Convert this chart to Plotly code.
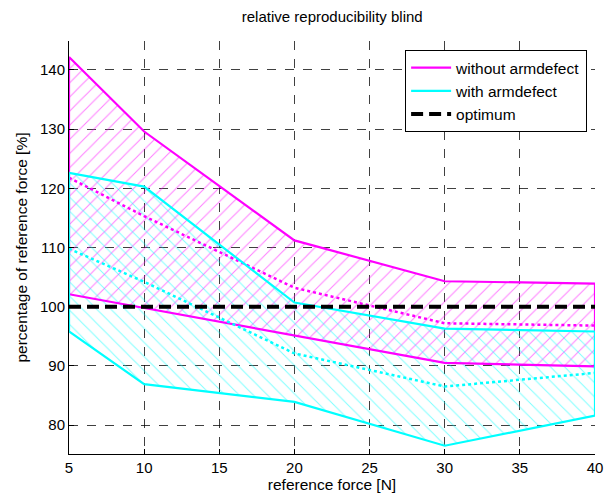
import plotly.graph_objects as go

force = [5, 10, 20, 30, 40]
wo_upper = [142.2, 129.6, 111.2, 104.3, 103.9]
wo_lower = [102.1, 99.7, 95.1, 90.5, 89.9]
wo_mean = [121.8, 115.3, 103.2, 97.2, 96.8]
w_upper = [122.6, 120.3, 100.7, 96.3, 95.8]
w_lower = [95.8, 86.9, 83.9, 76.5, 81.6]
w_mean = [109.8, 104.2, 92.1, 86.5, 88.8]
optimum = [100, 100]
opt_x = [5, 40]
x_ticks = [5, 10, 15, 20, 25, 30, 35, 40]
y_ticks = [80, 90, 100, 110, 120, 130, 140]

MAG = "#ff00ff"
CYA = "#00ffff"
FONT = "Liberation Sans, Arial"

def poly(up, lo):
    xs = force + force[::-1] + [force[0]]
    ys = up + lo[::-1] + [up[0]]
    return xs, ys

fig = go.Figure()

mx, my = poly(wo_upper, wo_lower)
cx, cy = poly(w_upper, w_lower)

fig.add_trace(go.Scatter(x=mx, y=my, mode="lines", fill="toself",
                         fillcolor="rgba(0,0,0,0)",
                         fillpattern=dict(shape="/", fgcolor=MAG, bgcolor="rgba(0,0,0,0)",
                                          size=10, solidity=0.1, fillmode="overlay"),
                         line=dict(width=0), showlegend=False, hoverinfo="skip"))
fig.add_trace(go.Scatter(x=cx, y=cy, mode="lines", fill="toself",
                         fillcolor="rgba(0,0,0,0)",
                         fillpattern=dict(shape="\\", fgcolor=CYA, bgcolor="rgba(0,0,0,0)",
                                          size=10, solidity=0.1, fillmode="overlay"),
                         line=dict(width=0), showlegend=False, hoverinfo="skip"))

fig.add_trace(go.Scatter(x=mx, y=my, mode="lines", line=dict(color=MAG, width=2.2),
                         name="without armdefect"))
fig.add_trace(go.Scatter(x=force, y=wo_mean, mode="lines", line=dict(color=MAG, width=2.5, dash="dot"),
                         showlegend=False))
fig.add_trace(go.Scatter(x=cx, y=cy, mode="lines", line=dict(color=CYA, width=2.2),
                         name="with armdefect"))
fig.add_trace(go.Scatter(x=force, y=w_mean, mode="lines", line=dict(color=CYA, width=2.5, dash="dot"),
                         showlegend=False))
fig.add_trace(go.Scatter(x=opt_x, y=optimum, mode="lines",
                         line=dict(color="black", width=4, dash="12px,6px"),
                         name="optimum"))

axis_common = dict(showgrid=True, gridcolor="rgba(0,0,0,0.75)", griddash="dash", gridwidth=1,
                   showline=True, linecolor="black", linewidth=1, mirror=False,
                   ticks="inside", ticklen=5, tickcolor="black",
                   tickfont=dict(family=FONT, size=15, color="black"),
                   zeroline=False, automargin=False)

fig.update_xaxes(range=[5, 40], tickvals=x_ticks, ticktext=[str(v) for v in x_ticks],
                 title=dict(text="reference force [N]", standoff=3,
                            font=dict(family=FONT, size=15.5, color="black")),
                 **axis_common)
fig.update_yaxes(range=[75.1, 144.9], tickvals=y_ticks, ticktext=[str(v) for v in y_ticks],
                 title=dict(text="percentage of reference force [%]", standoff=8,
                            font=dict(family=FONT, size=15.5, color="black")),
                 **axis_common)

fig.update_layout(
    width=608, height=496,
    margin=dict(l=69, r=12.5, t=41, b=42, autoexpand=False),
    paper_bgcolor="white", plot_bgcolor="white",
    title=dict(text="relative reproducibility blind", x=(69 + 595.5) / 2 / 608, xanchor="center",
               y=1 - 17 / 496, yanchor="middle", yref="container",
               font=dict(family=FONT, size=15, color="black")),
    legend=dict(x=0.985, y=0.978, xanchor="right", yanchor="top",
                bgcolor="white", bordercolor="black", borderwidth=1,
                font=dict(family=FONT, size=15.5, color="black"),
                tracegroupgap=0, itemwidth=40),
    showlegend=True,
)

fig.write_html("out.html")
